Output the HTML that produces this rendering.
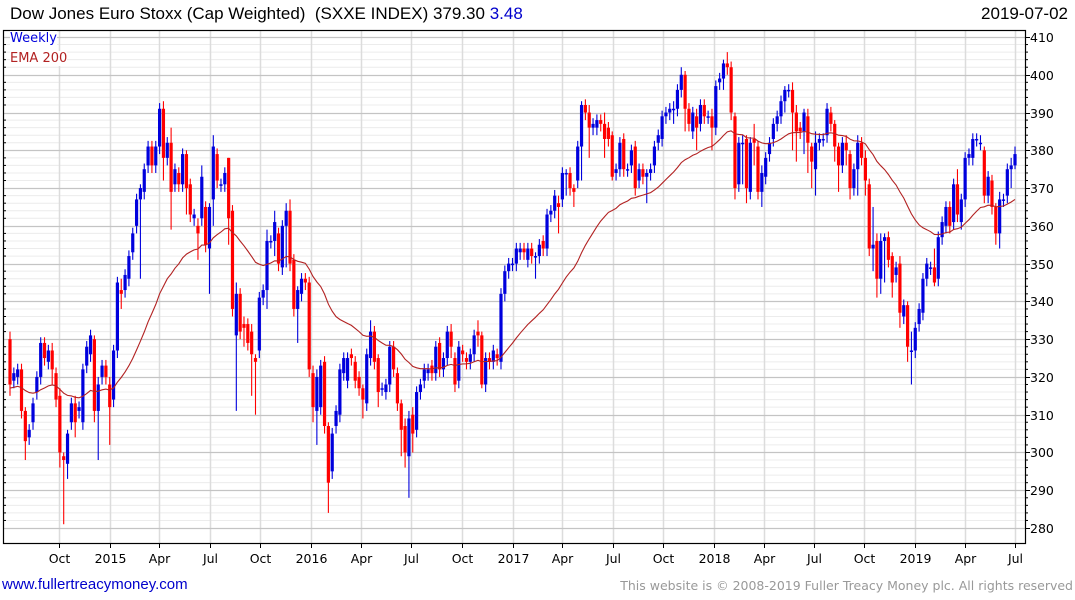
<!DOCTYPE html>
<html><head><meta charset="utf-8"><style>
html,body{margin:0;padding:0;background:#fff;}
body{width:1075px;height:600px;overflow:hidden;position:relative;font-family:"DejaVu Sans","Liberation Sans",sans-serif;}
.t{position:absolute;white-space:nowrap;}
</style></head><body>
<div class="t" style="left:10px;top:4px;font-family:'Liberation Sans',sans-serif;font-size:17px;color:#000;">Dow Jones Euro Stoxx (Cap Weighted)&nbsp; (SXXE INDEX) 379.30 <span style="color:#0000cc">3.48</span></div>
<div class="t" style="right:7px;top:4px;font-family:'Liberation Sans',sans-serif;font-size:17px;color:#000;">2019-07-02</div>
<svg id="chart" width="1075" height="600" style="position:absolute;left:0;top:0"></svg>
<div class="t" style="left:10px;top:31px;font-size:13px;color:#0000dd;background:#fff;">Weekly</div>
<div class="t" style="left:10px;top:51px;font-size:13px;color:#b22222;background:#fff;">EMA 200</div>
<div class="t" style="left:2px;top:576px;font-family:'Liberation Sans',sans-serif;font-size:15px;color:#0000cc;">www.fullertreacymoney.com</div>
<div class="t" style="right:2px;top:578px;font-size:12.5px;color:#999;">This website is © 2008-2019 Fuller Treacy Money plc. All rights reserved</div>
<script>
const yTicks=[410,400,390,380,370,360,350,340,330,320,310,300,290,280];
const xTickLabels=['Oct','2015','Apr','Jul','Oct','2016','Apr','Jul','Oct','2017','Apr','Jul','Oct','2018','Apr','Jul','Oct','2019','Apr','Jul'];
const xTickDates=['2014-10-01','2015-01-01','2015-04-01','2015-07-01','2015-10-01','2016-01-01','2016-04-01','2016-07-01','2016-10-01','2017-01-01','2017-04-01','2017-07-01','2017-10-01','2018-01-01','2018-04-01','2018-07-01','2018-10-01','2019-01-01','2019-04-01','2019-07-01'];
const firstDate='2014-07-04', lastDate='2019-07-01';
// weekly candles: [open, close] or [open, close, high, low]
const candles=[
[330,318,332,315],[319,321],[320,322],[322,311],[311,303,312,298],[304,306],[308,313],[316,320],[320,329],[329,325],
[324,327],[327,322,329,318],[321,314],[315,300,317,296],[299,298,300,281],[297,305,306,293],[308,313],[313,308,315,304],[311,312],[308,322],
[323,328],[326,331],[330,311,331,308],[311,318,320,298],[320,323],[323,320],[318,312,320,302],[314,327],[327,345],[343,342,346,338],
[343,347],[346,352],[353,358],[360,367],[367,370,371,346],[369,375],[376,381],[381,376],[376,381],[381,391],
[391,378,393,372],[378,382],[382,369,386,359],[371,375],[374,371],[371,379],[379,370,380,363],[371,363],[362,363],[360,358,362,351],
[362,373,376,360],[365,355],[354,365,366,342],[367,381,384,360],[379,372],[371,371],[371,374],[378,362,378,355],[364,338],[331,342,345,311],
[342,332],[334,333,336,328],[334,329],[332,326,334,315],[325,324,326,310],[327,341],[341,343],[343,356,359,338],[356,356],[356,361,364,352],
[358,350],[349,360],[360,364,366,349],[364,350,367,348],[351,338],[338,343,344,329],[342,346],[346,345],[345,322],[321,312,323,308],
[311,320,322,302],[312,323],[324,307],[307,292,308,284],[295,305],[307,311],[310,322],[321,325],[319,325],[326,325],
[324,319],[320,317],[317,314,318,309],[313,326],[325,332,335,323],[332,324],[325,316,326,312],[317,317],[316,318],[318,328],
[328,322],[321,313],[313,306,314,299],[307,300,309,296],[299,309,311,288],[310,305,312,300],[306,316],[316,318],[319,322],[321,322],
[323,321],[321,328],[329,322],[322,325],[325,332],[332,328,334,325],[325,318],[319,328],[327,326],[325,324],
[324,326],[326,331],[332,331,335,328],[331,318,332,317],[318,325],[325,324],[324,327],[326,325],[324,342],[342,348],
[348,350],[350,350],[350,354],[353,354],[354,353],[351,354],[354,352],[352,352,353,346],[352,355],[356,354],
[354,363],[363,364],[364,368],[366,365,368,358],[367,374],[374,374,375,368],[374,370],[370,369,371,365],[372,381],[381,392,393,372],
[392,390],[390,386,392,378],[386,387],[386,388],[388,387],[387,383,390,378],[386,383],[384,373,385,372],[374,375],[375,382],
[383,375],[375,375],[376,380],[381,370],[372,375],[375,373],[373,374,375,366],[374,375],[376,381],[382,384],
[383,389],[389,390],[390,391],[391,391,393,387],[391,396],[396,400,402,394],[400,391,401,385],[391,387],[385,390],[389,386,391,380],
[387,392],[392,389],[389,389],[389,386,391,380],[386,397],[398,399],[399,403,404,396],[403,402,406,400],[402,390],[389,370,390,367],
[371,382],[382,382,384,371],[383,370,384,366],[369,382],[383,382,387,376],[381,369],[369,374,376,365],[373,378],[379,382],[383,387],
[387,389],[389,393],[393,396,397,390],[396,396],[396,390,398,380],[390,385,392,377],[386,385],[385,390,391,379],[389,382,391,374],[381,377,382,370],
[375,382,385,368],[382,383],[383,383],[384,391],[390,387],[387,381,388,377],[381,376,382,369],[376,382],[382,380,384,376],[379,370,380,367],
[370,375],[375,382,384,368],[382,378],[378,372,380,368],[371,354],[354,355,365,348],[356,346,358,341],[346,356,358,342],[356,357,358,345],[357,351],
[352,345,353,341],[347,349],[350,337,352,333],[336,339],[339,328,340,324],[327,327,332,318],[327,333],[334,338],[337,346],[346,350],
[349,349],[349,345,354,344],[346,357],[357,361],[360,365],[365,360],[361,371],[371,363,375,361],[361,367],[367,378],
[378,379],[378,383],[383,383],[382,382,384,380],[380,368,381,366],[368,373],[372,365],[365,358,366,355],[358,367,369,354],[367,367],
[368,375],[375,376,378,370],[376,379,381,375]
];
const NS='http://www.w3.org/2000/svg';
const svg=document.getElementById('chart');
const L=3,R=1025,T=30,B=543;
function yS(v){return 37+(410-v)*3.777;}
const t0=Date.parse(firstDate), t1=Date.parse(lastDate);
function xD(d){return 10+(Date.parse(d)-t0)/(t1-t0)*1005;}
function xI(i){return 10+i*1005/(candles.length-1);}
function el(tag,attrs){const e=document.createElementNS(NS,tag);for(const k in attrs)e.setAttribute(k,attrs[k]);svg.appendChild(e);return e;}
for(let v=280;v<=410;v+=2){
  if(v%10===0)continue;
  const g=el('line',{x1:L,x2:R,y1:yS(v),y2:yS(v),stroke:'#ececec','stroke-width':1});
  
  
  const tk=el('line',{x1:R,x2:R+3,y1:yS(v),y2:yS(v),stroke:'#000','stroke-width':1});
  
  
  const tk2=el('line',{x1:L,x2:L+3,y1:yS(v),y2:yS(v),stroke:'#000','stroke-width':1});
  
  
}
xTickDates.forEach((d,i)=>{
  const x=Math.round(xD(d))+0.5;
  const g=el('line',{x1:x,x2:x,y1:T,y2:B,stroke:'#dcdcdc','stroke-width':1.5});
  
  
  const tk=el('line',{x1:x,x2:x,y1:B,y2:B+5,stroke:'#000','stroke-width':1});
  
  
  const tx=el('text',{x:x,y:563,'text-anchor':'middle','font-size':12.5,fill:'#000','font-family':'DejaVu Sans, sans-serif'});
  tx.textContent=xTickLabels[i];
  
  
});
yTicks.forEach(v=>{
  const y=Math.round(yS(v))+0.5;
  const g=el('line',{x1:L,x2:R,y1:y,y2:y,stroke:'#c4c4c4','stroke-width':1.3});
  
  
  const tk=el('line',{x1:R,x2:R+5,y1:y,y2:y,stroke:'#000','stroke-width':1});
  
  
  const tx=el('text',{x:1030,y:y+4.5,'font-size':12.5,fill:'#000','font-family':'DejaVu Sans, sans-serif'});
  tx.textContent=String(v);
  
  
});
const emaPeriod=36;
let ema=317, pts=[];
candles.forEach((c,i)=>{ema=ema+(c[1]-ema)*2/(emaPeriod+1);pts.push(xI(i).toFixed(1)+','+yS(ema).toFixed(1));});
candles.forEach((c,i)=>{
  const o=c[0],cl=c[1];
  const hi=c.length>2?c[2]:Math.max(o,cl)+1.5;
  const lo=c.length>3?c[3]:Math.min(o,cl)-2;
  const col=cl>=o?'#0000dd':'#ff0000';
  const x=xI(i);
  const w=el('line',{x1:x,x2:x,y1:yS(hi),y2:yS(lo),stroke:col,'stroke-width':1.1});
  
  
  const top=yS(Math.max(o,cl)),bot=yS(Math.min(o,cl));
  const b=el('rect',{x:x-1.6,y:top,width:3.2,height:Math.max(bot-top,1.5),fill:col});
  
  
});
const pl=el('polyline',{points:pts.join(' '),fill:'none',stroke:'#b22222','stroke-width':1.1});


const fr=el('rect',{x:L+0.5,y:T+0.5,width:R-L,height:B-T,fill:'none',stroke:'#000','stroke-width':1.2});


</script>
</body></html>
